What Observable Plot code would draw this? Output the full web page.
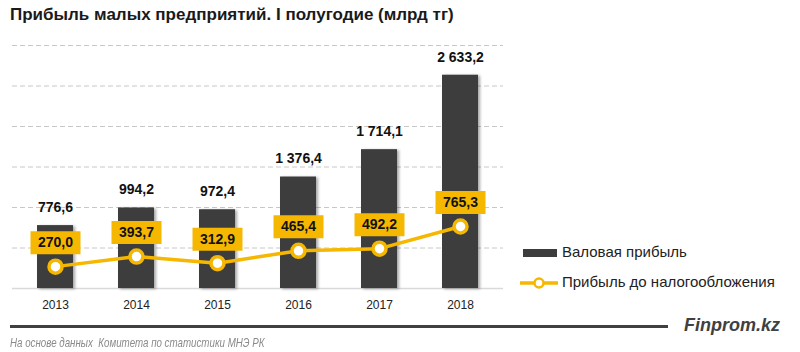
<!DOCTYPE html>
<html><head><meta charset="utf-8">
<script src="https://cdn.jsdelivr.net/npm/d3@7"></script>
<script src="https://cdn.jsdelivr.net/npm/@observablehq/plot@0.6"></script>
<style>
body{margin:0;background:#fff;font-family:"Liberation Sans",Arial,sans-serif}
#wrap{position:relative;width:800px;height:352px;overflow:hidden;background:#fff}
#title{position:absolute;left:10px;top:5px;font-weight:bold;font-size:17px;color:#1a1a1a;white-space:nowrap}
#chart{position:absolute;left:0;top:30px}
#legend{position:absolute;left:0;top:0}
#rule{position:absolute;left:10px;top:325px;width:658px;height:2.5px;background:#404040}
#brand{position:absolute;left:684px;top:315px;font-weight:bold;font-style:italic;font-size:18px;color:#404040}
#source{position:absolute;left:10px;top:335px;font-style:italic;font-size:13px;color:#8a8a8a;white-space:pre;transform:scaleX(0.75);transform-origin:0 0}
</style></head><body>
<div id="wrap">
<div id="title">Прибыль малых предприятий. I полугодие (млрд тг)</div>
<div id="chart"></div>
<svg id="legend" width="800" height="352"></svg>
<div id="rule"></div>
<div id="brand">Finprom.kz</div>
<div id="source">На основе данных  Комитета по статистики МНЭ РК</div>
</div>
<script>
const years = ["2013", "2014", "2015", "2016", "2017", "2018"];
const grossProfit = [776.6, 994.2, 972.4, 1376.4, 1714.1, 2633.2];
const preTaxProfit = [270.0, 393.7, 312.9, 465.4, 492.2, 765.3];
const yTicks = [0, 500, 1000, 1500, 2000, 2500, 3000];
const seriesNames = ["Валовая прибыль", "Прибыль до налогообложения"];

const barColor = "#3d3d3d";
const gold = "#F5B700";
const fmt = d3.formatLocale({decimal: ",", thousands: " ", grouping: [3]}).format(",.1f");

const rows = years.map((y, i) => ({year: y, gross: grossProfit[i], pretax: preTaxProfit[i]}));

const labelBox = {draw(ctx) { ctx.rect(-25, -11.5, 50, 23); }};

const chart = Plot.plot({
  width: 800,
  height: 290,
  marginLeft: 12,
  marginRight: 297,
  marginTop: 15,
  marginBottom: 32,
  style: {fontFamily: "Liberation Sans, Arial, sans-serif", background: "transparent"},
  x: {domain: years, paddingInner: 0.55, paddingOuter: 0.275, label: null},
  y: {domain: [0, 3000], axis: null},
  marks: [
    Plot.ruleY(yTicks.filter(d => d > 0), {stroke: "#c8c8c8", strokeDasharray: "5,3", strokeWidth: 1}),
    Plot.ruleY([0], {stroke: "#d9d9d9", strokeWidth: 1.5}),
    Plot.barY(rows, {x: "year", y: "gross", fill: barColor}),
    Plot.text(rows, {x: "year", y: "gross", text: d => fmt(d.gross), dy: -18, fontWeight: "bold", fontSize: 14, fill: "#111"}),
    Plot.line(rows, {x: "year", y: "pretax", stroke: gold, strokeWidth: 3.5}),
    Plot.dot(rows, {x: "year", y: "pretax", r: 6.5, fill: "#fff", stroke: gold, strokeWidth: 3.5}),
    Plot.dot(rows, {x: "year", y: "pretax", symbol: labelBox, fill: gold, stroke: "none", dy: -24}),
    Plot.text(rows, {x: "year", y: "pretax", text: d => fmt(d.pretax), dy: -24, fontWeight: "bold", fontSize: 14, fill: "#111"}),
    Plot.axisX({tickSize: 0, tickPadding: 12, fontSize: 12, color: "#222", label: null})
  ]
});
document.getElementById("chart").appendChild(chart);
chart.querySelectorAll('g[aria-label="bar"] rect').forEach(r => r.style.filter = "drop-shadow(2px 1px 1.5px rgba(0,0,0,0.35))");

// legend
const lg = d3.select("#legend");
lg.append("rect").attr("x", 523).attr("y", 249).attr("width", 34).attr("height", 8).attr("fill", barColor);
lg.append("text").attr("x", 562).attr("y", 253).attr("dominant-baseline", "middle")
  .attr("font-size", 15).attr("fill", "#222").text(seriesNames[0]);
lg.append("line").attr("x1", 520).attr("x2", 558).attr("y1", 283).attr("y2", 283).attr("stroke", gold).attr("stroke-width", 3.5);
lg.append("circle").attr("cx", 539).attr("cy", 283).attr("r", 4.5).attr("fill", "#fff").attr("stroke", gold).attr("stroke-width", 2.5);
lg.append("text").attr("x", 562).attr("y", 283).attr("dominant-baseline", "middle")
  .attr("font-size", 15).attr("fill", "#222").text(seriesNames[1]);
</script>
</body></html>
